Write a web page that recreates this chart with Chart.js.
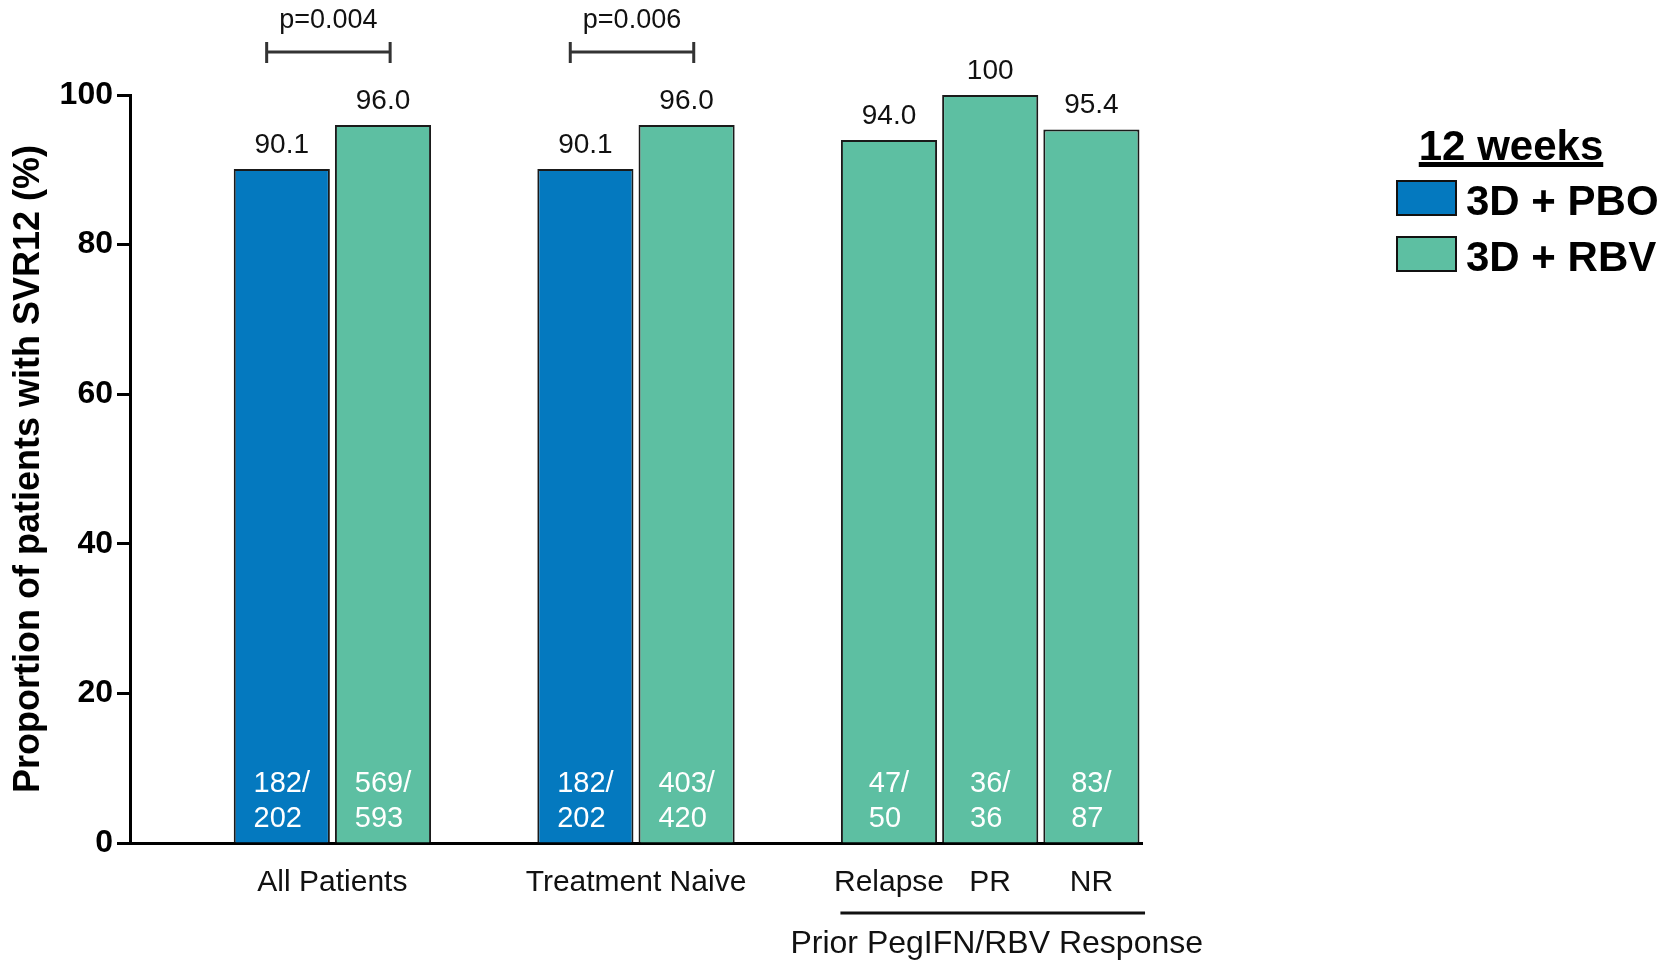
<!DOCTYPE html>
<html>
<head>
<meta charset="utf-8">
<title>SVR12 por subgrupo</title>
<script src="https://cdn.jsdelivr.net/npm/chart.js@4.4.1/dist/chart.umd.min.js"></script>
<style>
  html, body { margin: 0; padding: 0; background: #ffffff; }
  #wrap { width: 1674px; height: 961px; position: relative; }
</style>
</head>
<body>
<div id="wrap"><canvas id="myChart" width="1674" height="961"></canvas></div>
<script>
// Dados
var categories = ['All Patients', 'Treatment Naive', 'Relapse', 'PR', 'NR'];
var pboValues = [90.1, 90.1, null, null, null];
var rbvValues = [96.0, 96.0, 94.0, 100, 95.4];
var pboCounts = ['182/202', '182/202', null, null, null];
var rbvCounts = ['569/593', '403/420', '47/50', '36/36', '83/87'];
var pValues = ['p=0.004', 'p=0.006'];
var seriesNames = ['3D + PBO', '3D + RBV'];
var yTicks = [0, 20, 40, 60, 80, 100];
var legendTitle = '12 weeks';
var subgroupTitle = 'Prior PegIFN/RBV Response';
var yTitle = 'Proportion of patients with SVR12 (%)';

var corPbo = '#0479BF';
var corRbv = '#5DBFA2';
var fonte = '"Liberation Sans", Arial, sans-serif';

// Monta as posições: um espaço vazio antes de cada grupo de duas barras e antes das barras únicas
var slots = [];
var primeiraUnica = true;
categories.forEach(function(cat, i) {
    if (pboValues[i] !== null) {
        slots.push(null, { cat: i, s: 0 }, { cat: i, s: 1 });
    } else {
        if (primeiraUnica) { slots.push(null); primeiraUnica = false; }
        slots.push({ cat: i, s: 1 });
    }
});

var labels = slots.map(function(s) { return s ? categories[s.cat] : ''; });
var dataPbo = slots.map(function(s) { return s && s.s === 0 ? pboValues[s.cat] : null; });
var dataRbv = slots.map(function(s) { return s && s.s === 1 ? rbvValues[s.cat] : null; });

function formatValor(v) {
    return v >= 100 ? String(v) : v.toFixed(1);
}

// Desenha rótulos, colchetes de p-valor e legenda
var anotacoes = {
    id: 'anotacoes',
    afterDatasetsDraw: function(chart) {
        var ctx = chart.ctx;
        var y = chart.scales.y;
        var base = y.getPixelForValue(0);
        var barras = [chart.getDatasetMeta(0).data, chart.getDatasetMeta(1).data];
        var contagens = [pboCounts, rbvCounts];
        var valores = [pboValues, rbvValues];
        var centros = {}; // posições x por categoria

        ctx.save();
        slots.forEach(function(s, idx) {
            if (!s) return;
            var bar = barras[s.s][idx];
            if (!centros[s.cat]) centros[s.cat] = [];
            centros[s.cat].push(bar.x);

            // valor acima da barra
            ctx.fillStyle = '#111';
            ctx.font = '28px ' + fonte;
            ctx.textAlign = 'center';
            ctx.textBaseline = 'alphabetic';
            ctx.fillText(formatValor(valores[s.s][s.cat]), bar.x, bar.y - 16);

            // n/N dentro da barra
            var partes = contagens[s.s][s.cat].split('/');
            var linha1 = partes[0] + '/';
            var linha2 = partes[1];
            ctx.fillStyle = '#ffffff';
            ctx.font = '29px ' + fonte;
            ctx.textAlign = 'left';
            var x0 = bar.x - ctx.measureText(linha1).width / 2;
            ctx.fillText(linha1, x0, base - 51);
            ctx.fillText(linha2, x0, base - 16);
        });

        // rótulos das categorias
        ctx.fillStyle = '#111';
        ctx.font = '30px ' + fonte;
        ctx.textAlign = 'center';
        categories.forEach(function(cat, i) {
            var xs = centros[i];
            var cx = (xs[0] + xs[xs.length - 1]) / 2;
            ctx.fillText(cat, cx, base + 48);
        });

        // linha e título do subgrupo
        var passo = chart.scales.x.width / slots.length;
        var unicas = [];
        categories.forEach(function(cat, i) { if (pboValues[i] === null) unicas.push(centros[i][0]); });
        var x1 = unicas[0] - passo * 0.48;
        var x2 = unicas[unicas.length - 1] + passo * 0.53;
        ctx.strokeStyle = '#111';
        ctx.lineWidth = 3;
        ctx.beginPath();
        ctx.moveTo(x1, base + 70);
        ctx.lineTo(x2, base + 70);
        ctx.stroke();
        ctx.font = '32px ' + fonte;
        ctx.fillText(subgroupTitle, (x1 + x2) / 2 + 4, base + 110);

        // colchetes de p-valor
        ctx.strokeStyle = '#333';
        ctx.lineWidth = 3;
        ctx.font = '27px ' + fonte;
        var k = 0;
        categories.forEach(function(cat, i) {
            if (pboValues[i] === null) return;
            var cx = (centros[i][0] + centros[i][1]) / 2 - 4;
            var meia = passo * 0.61;
            ctx.beginPath();
            ctx.moveTo(cx - meia, 52);
            ctx.lineTo(cx + meia, 52);
            ctx.moveTo(cx - meia, 42);
            ctx.lineTo(cx - meia, 63);
            ctx.moveTo(cx + meia, 42);
            ctx.lineTo(cx + meia, 63);
            ctx.stroke();
            ctx.fillStyle = '#111';
            ctx.fillText(pValues[k], cx, 28);
            k++;
        });

        // legenda
        ctx.fillStyle = '#000';
        ctx.font = 'bold 42px ' + fonte;
        ctx.textAlign = 'center';
        ctx.fillText(legendTitle, 1511, 160);
        var largura = ctx.measureText(legendTitle).width;
        ctx.fillRect(1511 - largura / 2, 162, largura, 5);

        var cores = [corPbo, corRbv];
        var topos = [181, 237];
        var bases = [215, 271];
        ctx.textAlign = 'left';
        for (var j = 0; j < 2; j++) {
            ctx.fillStyle = cores[j];
            ctx.fillRect(1397, topos[j], 59, 34);
            ctx.strokeStyle = '#111';
            ctx.lineWidth = 2;
            ctx.strokeRect(1397, topos[j], 59, 34);
            ctx.fillStyle = '#000';
            ctx.fillText(seriesNames[j], 1466, bases[j]);
        }
        ctx.restore();
    }
};

var ctx = document.getElementById('myChart').getContext('2d');
var myChart = new Chart(ctx, {
    type: 'bar',
    data: {
        labels: labels,
        datasets: [{
            label: seriesNames[0],
            data: dataPbo,
            backgroundColor: corPbo,
            borderColor: '#1a1a1a',
            borderWidth: 2,
            grouped: false,
            categoryPercentage: 1,
            barPercentage: 0.95
        }, {
            label: seriesNames[1],
            data: dataRbv,
            backgroundColor: corRbv,
            borderColor: '#1a1a1a',
            borderWidth: 2,
            grouped: false,
            categoryPercentage: 1,
            barPercentage: 0.95
        }]
    },
    options: {
        responsive: false,
        animation: false,
        layout: {
            padding: { top: 95, right: 532, bottom: 0, left: 0 }
        },
        plugins: {
            legend: { display: false },
            tooltip: { enabled: false }
        },
        scales: {
            x: {
                ticks: { display: false },
                grid: { display: false },
                border: { display: true, color: '#000', width: 3 },
                afterFit: function(scale) { scale.height = 118; }
            },
            y: {
                min: 0,
                max: 100,
                afterBuildTicks: function(scale) {
                    scale.ticks = yTicks.map(function(v) { return { value: v }; });
                },
                ticks: {
                    color: '#000',
                    padding: 4,
                    font: { family: fonte, size: 32, weight: 'bold' }
                },
                grid: {
                    drawOnChartArea: false,
                    drawTicks: true,
                    tickLength: 13,
                    tickWidth: 3,
                    tickColor: '#000'
                },
                border: { display: true, color: '#000', width: 3 },
                title: {
                    display: true,
                    text: yTitle,
                    color: '#000',
                    padding: { top: 7, bottom: 0 },
                    font: { family: fonte, size: 36, weight: 'bold' }
                },
                afterFit: function(scale) { scale.width = 130; }
            }
        }
    },
    plugins: [anotacoes]
});
</script>
</body>
</html>
